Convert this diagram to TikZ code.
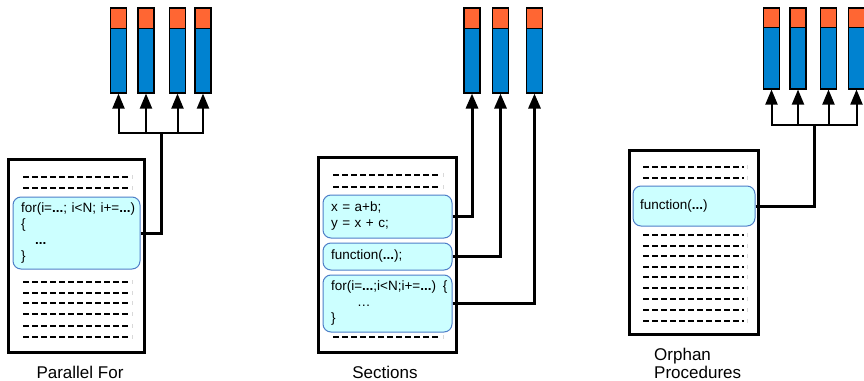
\documentclass[tikz,border=0pt]{standalone}
\usepackage{fontspec}
\setmainfont{Liberation Sans}
\usetikzlibrary{arrows.meta}
\definecolor{cpuor}{HTML}{FF6633}
\definecolor{cpublue}{HTML}{0082D0}
\definecolor{codefill}{HTML}{CCFFFF}
\definecolor{codeborder}{HTML}{4F7FC8}
\begin{document}
\begin{tikzpicture}[x=1pt,y=-1pt,
  cpu/.style={draw=black, line width=1.1pt, fill=cpublue, minimum width=16pt,
    minimum height=85pt, inner sep=0pt,
    path picture={\fill[cpuor] (path picture bounding box.north west) rectangle ([yshift=-20pt]path picture bounding box.north east);
      \draw[line width=1pt] ([yshift=-20pt]path picture bounding box.north west) -- ([yshift=-20pt]path picture bounding box.north east);}},
  cpusmall/.style={cpu, minimum height=81pt,
    path picture={\fill[cpuor] (path picture bounding box.north west) rectangle ([yshift=-19pt]path picture bounding box.north east);
      \draw[line width=1pt] ([yshift=-19pt]path picture bounding box.north west) -- ([yshift=-19pt]path picture bounding box.north east);}},
  doc/.style={draw=black, line width=3pt, inner sep=0pt},
  code/.style={draw=codeborder, fill=codefill, rounded corners=8pt, line width=1pt,
    inner xsep=8pt, inner ysep=0pt, align=left, font=\fontsize{13.5}{16}\selectfont},
  trunk/.style={line width=3pt},
  branch/.style={line width=2pt, -{Triangle[width=12pt,length=15pt]}},
  arrowtrunk/.style={line width=3pt, -{Triangle[width=12pt,length=15pt]}},
  dashrow/.style={line width=2.9pt, dash pattern=on 6.2pt off 2.8pt},
  tickmark/.style={draw=gray!30, line width=0.6pt},
  caption/.style={font=\fontsize{17}{18}\selectfont, inner sep=0pt}
]
\useasboundingbox (0,0) rectangle (864,380);
\fill[white] (0,0) rectangle (864,380);

% ---------------- Parallel For ----------------
\node[cpu] (pA1) at (118.5,50.5) {};
\node[cpu] (pA2) at (146,50.5) {};
\node[cpu] (pA3) at (177.5,50.5) {};
\node[cpu] (pA4) at (203,50.5) {};
\node[doc, minimum width=136pt, minimum height=193pt] (docA) at (76,255.5) {};
\foreach \y in {177,188,282,293,303,314,326,337}{
  \draw[dashrow] (23,\y) -- (128,\y);
  \draw[tickmark] (132,\y-2) -- (132,\y+2);
}
\node[code, minimum height=72pt, text width=111pt] (loopA) at (76.5,233)
  {\mbox{for(i=\textbf{...}; i<N; i+=\textbf{...})}\\\{\\\hspace*{14pt}\textbf{...}\\\}};
\coordinate (jA) at (161,133);
\draw[trunk] (loopA.east) -| (jA);
\foreach \p in {pA1,pA2,pA3,pA4}
  \draw[branch] (jA) -| (\p.south);
\node[caption] (capA) at (80,372) {Parallel For};

% ---------------- Sections ----------------
\node[cpu] (pB1) at (472,50.5) {};
\node[cpu] (pB2) at (500.5,50.5) {};
\node[cpu] (pB3) at (534.5,50.5) {};
\node[doc, minimum width=138pt, minimum height=195pt] (docB) at (387,254.5) {};
\foreach \y in {175,187,337}{
  \draw[dashrow] (333,\y) -- (439,\y);
  \draw[tickmark] (443,\y-2) -- (443,\y+2);
}
\node[code, minimum height=43pt, text width=113pt] (secB1) at (387.5,216.5)
  {x = a+b;\\y = x + c;};
\node[code, minimum height=27pt, text width=113pt] (secB2) at (387.5,256.5)
  {function(\textbf{...});};
\node[code, minimum height=57pt, text width=113pt] (secB3) at (387.5,303.5)
  {\mbox{for(i=\textbf{...};i<N;i+=\textbf{...}) \{}\\\hspace*{26pt}…\\\}};
\draw[arrowtrunk] (secB1.east) -| (pB1.south);
\draw[arrowtrunk] (secB2.east) -| (pB2.south);
\draw[arrowtrunk] (secB3.east) -| (pB3.south);
\node[caption] (capB) at (385,372) {Sections};

% ---------------- Orphan Procedures ----------------
\node[cpusmall] (pC1) at (771.5,48.5) {};
\node[cpusmall] (pC2) at (798,48.5) {};
\node[cpusmall] (pC3) at (828.5,48.5) {};
\node[cpusmall] (pC4) at (856.5,48.5) {};
\node[doc, minimum width=129pt, minimum height=184pt] (docC) at (693.5,242) {};
\foreach \y in {167,178,235,246,256,267,277,288,299,310,321}{
  \draw[dashrow] (643,\y) -- (744,\y);
  \draw[tickmark] (747,\y-2) -- (747,\y+2);
}
\node[code, minimum height=40pt, text width=108pt, inner xsep=7pt] (fnC) at (694,206)
  {function(\textbf{...})};
\coordinate (jC) at (814,125);
\draw[trunk] (fnC.east) -| (jC);
\foreach \p in {pC1,pC2,pC3,pC4}
  \draw[branch] (jC) -| (\p.south);
\node[caption, align=left, anchor=west] (capC) at (654,363) {Orphan\\Procedures};
\end{tikzpicture}
\end{document}
